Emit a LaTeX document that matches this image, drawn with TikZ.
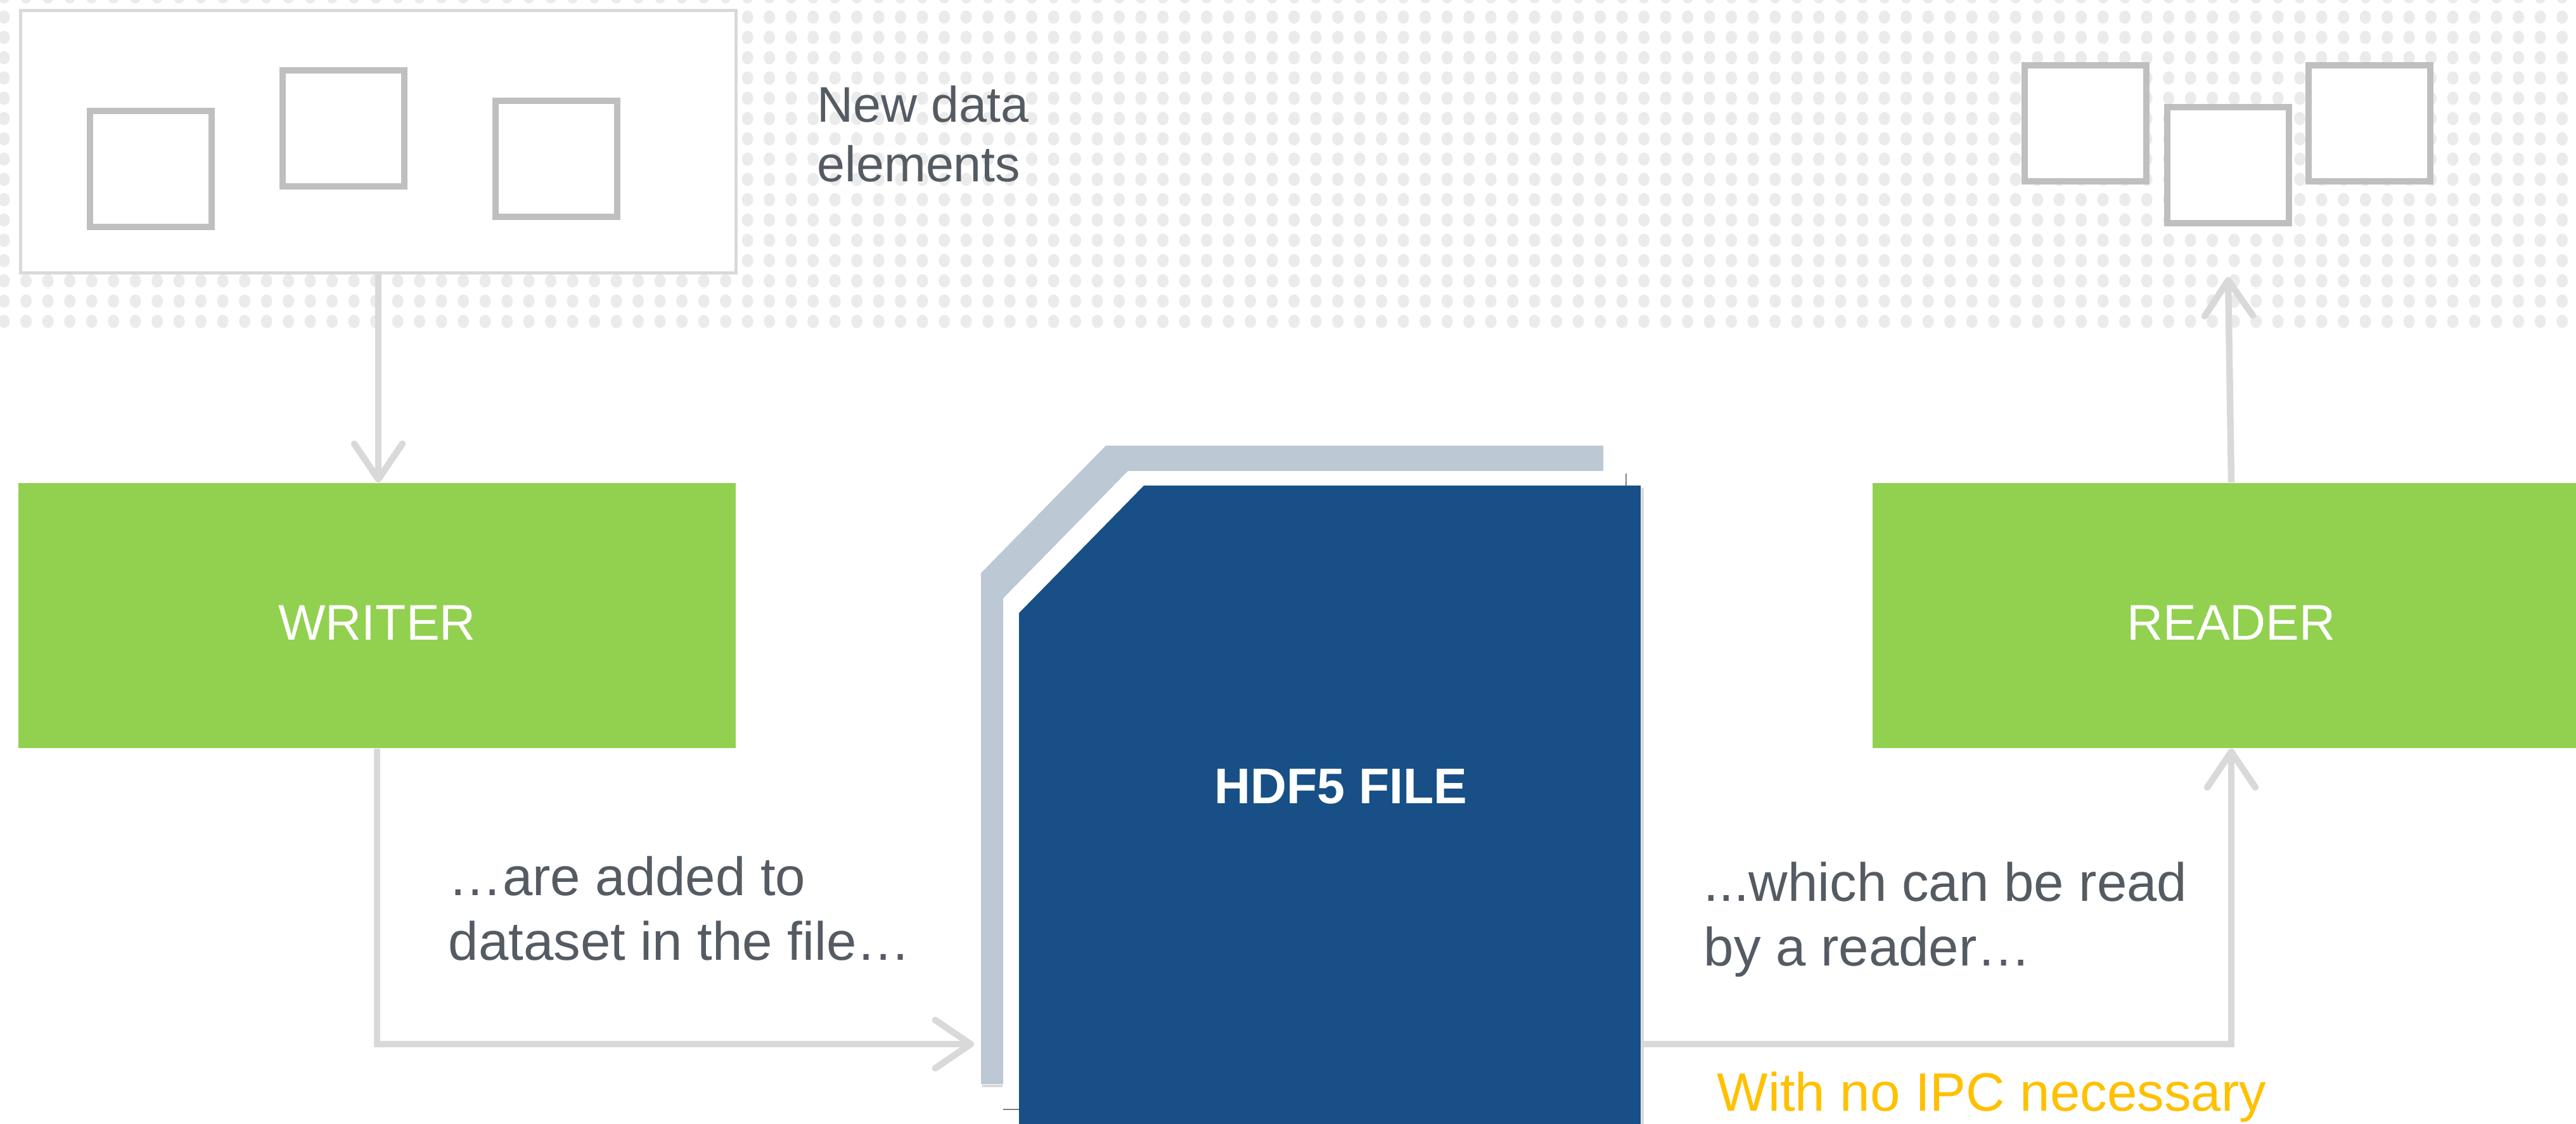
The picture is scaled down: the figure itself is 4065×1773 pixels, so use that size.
\documentclass[tikz,border=0pt]{standalone}
\usepackage{fontspec}
\setmainfont{Liberation Sans}
\usetikzlibrary{arrows.meta}

\definecolor{dotgray}{RGB}{235,235,235}
\definecolor{framegray}{RGB}{217,217,217}
\definecolor{elemgray}{RGB}{191,191,191}
\definecolor{linkgray}{RGB}{217,217,217}
\definecolor{boxgreen}{RGB}{146,208,80}
\definecolor{fileblue}{RGB}{23,79,134}
\definecolor{sheetgray}{RGB}{188,200,212}
\definecolor{textgray}{RGB}{84,91,99}
\definecolor{ipcyellow}{RGB}{255,192,0}

\begin{document}
\begin{tikzpicture}[x = 0.25pt, y = -0.25pt,
    elem/.style = {draw = elemgray, line width = 2.5pt, fill = white, minimum width = 48pt, minimum height = 45.75pt, inner sep = 0pt},
    role/.style = {fill = boxgreen, text = white, minimum width = 283pt, minimum height = 104.5pt, font = \fontsize{19.75pt}{23.5pt}\selectfont, text height = 19pt, text depth = 0pt},
    note/.style = {text = textgray, align = left, inner sep = 0pt, font = \fontsize{21.3pt}{25.5pt}\selectfont},
    link/.style = {draw = linkgray, line width = 2.6pt, -{Straight Barb[length = 14pt, width = 19pt, round]}}]
    \path [use as bounding box, clip] (0,0) rectangle (4065,1773);
    \fill [dotgray] \foreach \i in {0,...,118} {\foreach \j in {0,...,16} {({6.6+34.5*\i},{-5+32*\j}) ellipse (9 and 10.5)}};

    \node [draw = framegray, line width = 1.25pt, fill = white, minimum width = 282.25pt, minimum height = 103.5pt] (newdata) at (597,223.5) {};
    \node [elem] (new1) at (238,266.5) {};
    \node [elem] (new2) at (542,202.5) {};
    \node [elem] (new3) at (878,250.5) {};
    \node [elem] (read1) at (3291,195) {};
    \node [elem] (read2) at (3516,260.5) {};
    \node [elem] (read3) at (3739,195) {};
    \node [note, anchor = base west, font = \fontsize{19.75pt}{23.5pt}\selectfont] (newtext) at (1289,287) {New data\\elements};

    \node [role] (writer) at (595,971) {WRITER};
    \node [role] (reader) at (3521,971) {READER};

    \fill [sheetgray] (1548,1710) -- (1548,904) -- (1745,703) -- (2530,703) -- (2530,1710) -- cycle;
    \draw [framegray, line width = 1pt] (1550,1713) -- (1582,1713);
    \fill [white] (1583,1750) -- (1583,944) -- (1780,743) -- (2566,743) -- (2566,1750) -- cycle;
    \draw [gray, line width = 0.6pt] (2566,747) -- (2566,1750) -- (1583,1750);
    \fill [fileblue] (1608,1773) -- (1608,967) -- (1805,766) -- (2589,766) -- (2589,1773) -- cycle;
    \draw [framegray, line width = 1pt] (2592,770) -- (2592,1773);
    \node [text = white, inner sep = 0pt, font = \bfseries\fontsize{19.75pt}{23.5pt}\selectfont] (file) at (2116,1241) {HDF5 FILE};
    \coordinate (filein) at (1537,1647);
    \coordinate (fileout) at (2589,1647);

    \node [note, anchor = base west] (addtext) at (707,1514) {…are added to\\dataset in the file…};
    \node [note, anchor = base west] (readtext) at (2688,1523) {...which can be read\\by a reader…};
    \node [note, anchor = base west, text = ipcyellow] (ipc) at (2709,1752) {With no IPC necessary};

    \draw [link] (newdata.south) -- (newdata.south |- writer.north);
    \draw [link] (writer.south) |- (filein);
    \draw [link] (fileout) -| (reader.south);
    \draw [link] (reader.north) -- ([yshift = -20pt]read2.south);
\end{tikzpicture}
\end{document}
